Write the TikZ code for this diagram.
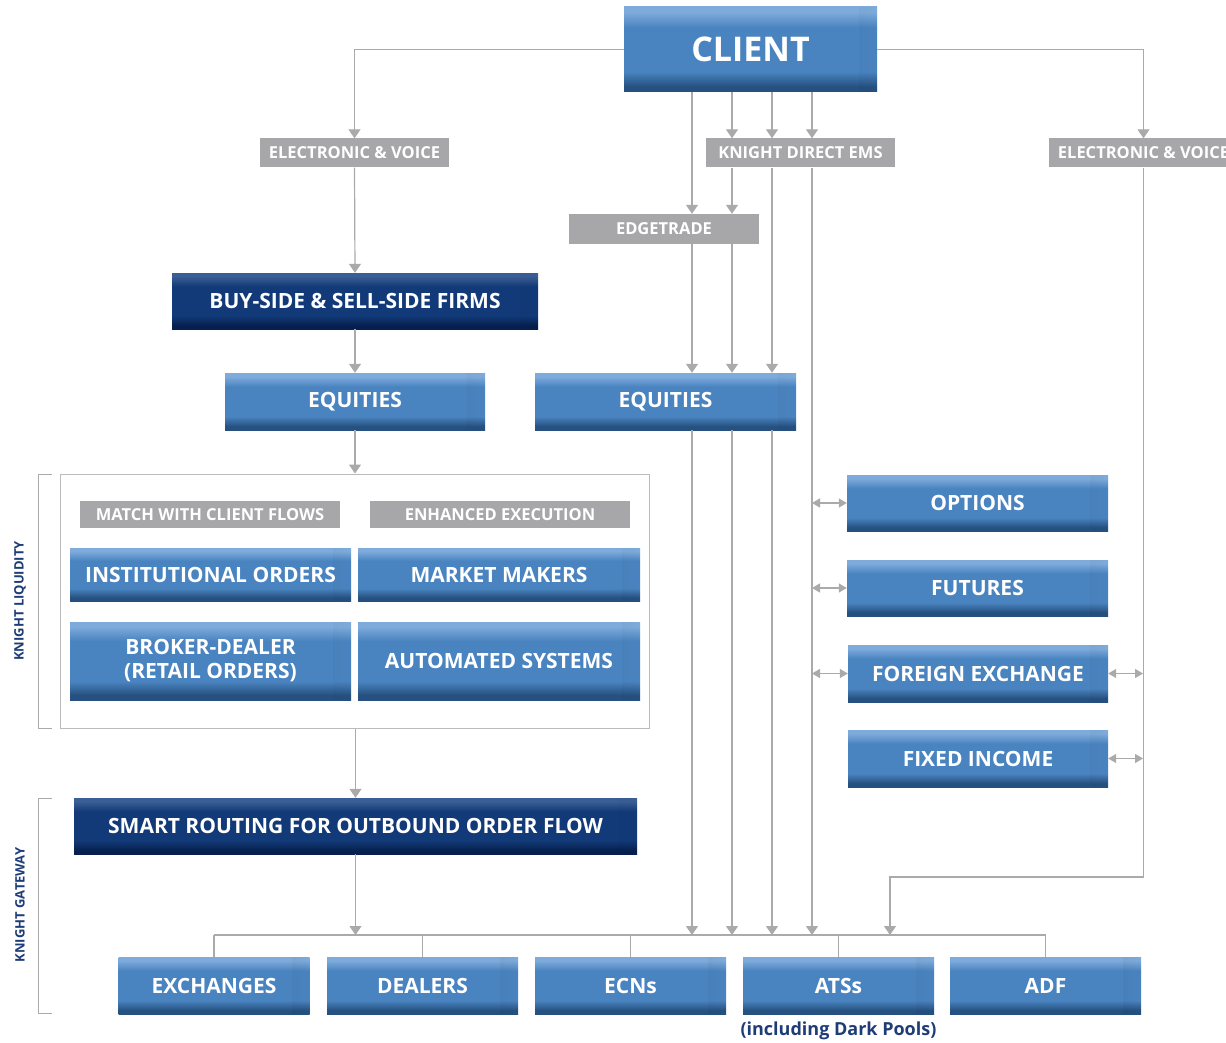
\documentclass[tikz,border=0pt]{standalone}
\usepackage{fontspec}
\setmainfont{Open Sans}
\usetikzlibrary{arrows.meta,fadings}
\definecolor{bTop}{HTML}{7EABDB}
\definecolor{bMid}{HTML}{4A84C0}
\definecolor{bBot}{HTML}{25507F}
\definecolor{nTop}{HTML}{3A5E95}
\definecolor{nMid}{HTML}{123A78}
\definecolor{nBot}{HTML}{061F4E}
\definecolor{lgray}{HTML}{A7A7A9}
\definecolor{lnc}{HTML}{AAAAAA}
\definecolor{navytxt}{HTML}{1E3D78}
\pgfdeclareverticalshading{bluebtn}{100bp}{color(0bp)=(bBot); color(25bp)=(bBot); color(28bp)=(bBot); color(37bp)=(bMid); color(63bp)=(bMid); color(72bp)=(bTop); color(75bp)=(bTop); color(100bp)=(bTop)}
\pgfdeclareverticalshading{navyshade}{100bp}{color(0bp)=(nBot); color(25bp)=(nBot); color(28bp)=(nBot); color(37bp)=(nMid); color(63bp)=(nMid); color(72bp)=(nTop); color(75bp)=(nTop); color(100bp)=(nTop)}
\tikzset{
  btn/.style={shading=bluebtn, text=white, font=\bfseries\fontsize{21}{24}\selectfont,
    inner sep=0pt, align=center,
    path picture={\fill[black,opacity=0.35,path fading=east]
      ([xshift=-18pt]path picture bounding box.north east) rectangle (path picture bounding box.south east);}},
  navybtn/.style={btn, shading=navyshade},
  glabel/.style={fill=lgray, text=white, font=\bfseries\fontsize{16.5}{18}\selectfont, inner sep=0pt},
  wire/.style={draw=lnc, line width=1.2pt},
  arr/.style={wire, -{Triangle[width=12pt,length=9pt]}},
  darr/.style={wire, {Triangle[width=9pt,length=8pt]}-{Triangle[width=9pt,length=8pt]}},
  side/.style={rotate=90, text=navytxt, font=\bfseries\fontsize{13}{15}\selectfont},
  brk/.style={draw=lnc, line width=1pt},
}
\begin{document}
\begin{tikzpicture}[x=1pt,y=-1pt]
\useasboundingbox (0,0) rectangle (1226,1043);
\fill[white] (0,0) rectangle (1226,1043);

% boxes
\node[btn, minimum width=253pt, minimum height=85pt, font=\bfseries\fontsize{34}{38}\selectfont] (client) at (750.5,49.5) {CLIENT};
\node[glabel, minimum width=189pt, minimum height=29pt] (ev1) at (354.5,153) {ELECTRONIC \& VOICE};
\node[glabel, minimum width=189pt, minimum height=29pt] (kd) at (800.5,153) {KNIGHT DIRECT EMS};
\node[glabel, minimum width=189pt, minimum height=29pt] (ev2) at (1143.5,153) {ELECTRONIC \& VOICE};
\node[glabel, minimum width=190pt, minimum height=30pt] (edge) at (664,229) {EDGETRADE};
\node[navybtn, minimum width=366pt, minimum height=56pt] (buysell) at (355,301) {BUY-SIDE \& SELL-SIDE FIRMS};
\node[btn, minimum width=260pt, minimum height=57pt] (eqL) at (355,401.5) {EQUITIES};
\node[btn, minimum width=261pt, minimum height=57pt] (eqR) at (665.5,401.5) {EQUITIES};

\node[draw=lnc!80, line width=1pt, minimum width=589pt, minimum height=254pt, inner sep=0pt] (liq) at (354.5,601) {};
\node[glabel, minimum width=260pt, minimum height=27pt] (match) at (210,514.5) {MATCH WITH CLIENT FLOWS};
\node[glabel, minimum width=260pt, minimum height=27pt] (enh) at (500,514.5) {ENHANCED EXECUTION};
\node[btn, minimum width=281pt, minimum height=53pt] (inst) at (210.5,574.5) {INSTITUTIONAL ORDERS};
\node[btn, minimum width=282pt, minimum height=53pt] (mm) at (499,574.5) {MARKET MAKERS};
\node[btn, minimum width=281pt, minimum height=78pt] (bd) at (210.5,661) {BROKER-DEALER\\(RETAIL ORDERS)};
\node[btn, minimum width=282pt, minimum height=78pt] (auto) at (499,661) {AUTOMATED SYSTEMS};

\node[navybtn, minimum width=563pt, minimum height=56pt] (smart) at (355.5,826) {SMART ROUTING FOR OUTBOUND ORDER FLOW};

\node[btn, minimum width=261pt, minimum height=56pt] (opt) at (977.5,503) {OPTIONS};
\node[btn, minimum width=261pt, minimum height=56pt] (fut) at (977.5,588) {FUTURES};
\node[btn, minimum width=260pt, minimum height=57pt] (fx) at (978,673.5) {FOREIGN EXCHANGE};
\node[btn, minimum width=260pt, minimum height=57pt] (fi) at (978,758.5) {FIXED INCOME};

\node[btn, minimum width=191pt, minimum height=57pt] (exch) at (214,985.5) {EXCHANGES};
\node[btn, minimum width=191pt, minimum height=57pt] (deal) at (422.5,985.5) {DEALERS};
\node[btn, minimum width=191pt, minimum height=57pt] (ecn) at (630.5,985.5) {ECNs};
\node[btn, minimum width=191pt, minimum height=57pt] (ats) at (838.5,985.5) {ATSs};
\node[btn, minimum width=191pt, minimum height=57pt] (adf) at (1045.5,985.5) {ADF};
\node[text=navytxt, font=\bfseries\fontsize{18}{20}\selectfont, anchor=north] (dark) at (838.5,1018) {(including Dark Pools)};

% side labels and brackets
\node[side] (liqlab) at (20,601) {KNIGHT LIQUIDITY};
\node[side] (gatelab) at (20,905) {KNIGHT GATEWAY};
\draw[brk] (52,474) -- (38,474) -- (38,728) -- (52,728);
\draw[brk] (52,798) -- (38,798) -- (38,1013) -- (52,1013);

\coordinate (bus) at (0,935);
\coordinate (turn) at (890,877);

% connectors top
\draw[arr] (client.west) -| (ev1.north);
\draw[arr] (client.east) -| (ev2.north);
\draw[arr] (692,0 |- client.south) -- (692,0 |- edge.north);
\draw[arr] (732,0 |- client.south) -- (732,0 |- kd.north);
\draw[arr] (772,0 |- client.south) -- (772,0 |- kd.north);
\draw[arr] (812,0 |- client.south) -- (812,0 |- kd.north);
\draw[arr] (732,0 |- kd.south) -- (732,0 |- edge.north);
\draw[arr] (692,0 |- edge.south) -- (692,0 |- eqR.north);
\draw[arr] (732,0 |- edge.south) -- (732,0 |- eqR.north);
\draw[arr] (772,0 |- kd.south) -- (772,0 |- eqR.north);
\draw[arr] (812,0 |- kd.south) -- (812,0 |- bus);
\draw[arr] (692,0 |- eqR.south) -- (692,0 |- bus);
\draw[arr] (732,0 |- eqR.south) -- (732,0 |- bus);
\draw[arr] (772,0 |- eqR.south) -- (772,0 |- bus);

% left chain
\draw[arr] (ev1.south) -- (buysell.north);
\draw[arr] (buysell.south) -- (eqL.north);
\draw[arr] (eqL.south) -- (eqL.south |- liq.north);
\draw[arr] (smart.north |- liq.south) -- (smart.north);
\draw[arr] (smart.south) -- (smart.south |- bus);

% right route
\draw[arr] (ev2.south) |- (turn) -- (turn |- bus);

% double arrows
\draw[darr] (opt.west -| 812,0) -- (opt.west);
\draw[darr] (fut.west -| 812,0) -- (fut.west);
\draw[darr] (fx.west -| 812,0) -- (fx.west);
\draw[darr] (fx.east) -- (fx.east -| 1143,0);
\draw[darr] (fi.east) -- (fi.east -| 1143,0);

% bus
\draw[wire] (exch.north |- bus) -- (adf.north |- bus);
\foreach \n in {exch,deal,ecn,ats,adf}{\draw[wire] (\n.north |- bus) -- (\n.north);}
\end{tikzpicture}
\end{document}
